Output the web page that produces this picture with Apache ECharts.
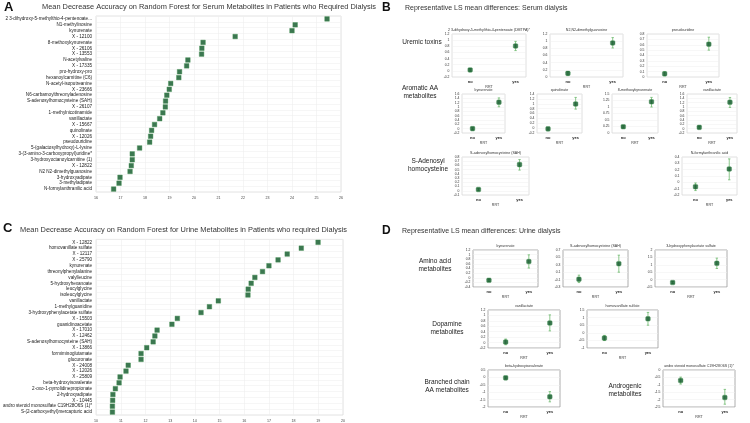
<!DOCTYPE html>
<html><head><meta charset="utf-8">
<script src="https://cdn.jsdelivr.net/npm/echarts@6/dist/echarts.min.js"></script>
<style>html,body{margin:0;padding:0;background:#fff}#c{width:750px;height:423px}</style>
</head><body><div id="c"></div><script>
// ---------- Panel A: serum random forest ----------
const serumNames = ["2 3-dihydroxy-5-methylthio-4-pentenoate...","N1-methylinosine","kynurenate","X - 12100","8-methoxykynurenate","X - 26106","X - 13553","N-acetylvaline","X - 17335","pro-hydroxy-pro","hexanoylcarnitine (C6)","N-acetyl-isoputreanine","X - 23666","N6-carbamoylthreonyladenosine","S-adenosylhomocysteine (SAH)","X - 26107","1-methylnicotinamide","vanillactate","X - 15667","quinolinate","X - 12026","pseudouridine","5-(galactosylhydroxy)-L-lysine","3-(3-amino-3-carboxypropyl)uridine*","3-hydroxyoctanoylcarnitine (1)","X - 12822","N2 N2-dimethylguanosine","3-hydroxyadipate","3-methyladipate","N-formylanthranilic acid"];
const serumMDA = [25.43,24.13,24.0,21.68,20.37,20.32,20.31,19.75,19.7,19.41,19.38,19.05,18.99,18.89,18.84,18.83,18.73,18.6,18.39,18.27,18.23,18.19,17.78,17.48,17.48,17.44,17.39,16.98,16.94,16.72];
const serumTicks = [16,17,18,19,20,21,22,23,24,25,26];

// ---------- Panel C: urine random forest ----------
const urineNames = ["X - 12822","homovanillate sulfate","X - 12117","X - 25790","kynurenate","threonylphenylalanine","valylleucine","5-hydroxyhexanoate","leucylglycine","isoleucylglycine","vanillactate","1-methylguanidine","3-hydroxyphenylacetate sulfate","X - 15503","guanidinoacetate","X - 17010","X - 12462","S-adenosylhomocysteine (SAH)","X - 13866","formiminoglutamate","glucuronate","X - 24008","X - 12026","X - 25809","beta-hydroxyisovalerate","2-oxo-1-pyrrolidinepropionate","2-hydroxyadipate","X - 10445","andro steroid monosulfate C19H28O6S (1)*","S-(2-carboxyethyl)mercapturic acid"];
const urineMDA = [18.99,18.31,17.74,17.37,17.0,16.74,16.43,16.28,16.16,16.15,14.95,14.59,14.25,13.29,13.07,12.47,12.38,12.31,12.05,11.82,11.82,11.30,11.21,10.97,10.93,10.78,10.68,10.67,10.66,10.66];
const urineTicks = [10,11,12,13,14,15,16,17,18,19,20];

// ---------- Panel B: serum LS means ----------
const rrtGroups = ["no","yes"];
const bTitles = ["2 3-dihydroxy-5-methylthio-4-pentenoate (DMTPA)*","N2,N2-dimethylguanosine","pseudouridine","kynurenate","quinolinate","8-methoxykynurenate","vanillactate","S-adenosylhomocysteine (SAH)","N-formylanthranilic acid"];
const bNoMean  = [0.03,0.10,0.06,0.00,-0.03,0.24,0.06,0.03,-0.07];
const bNoLow   = [-0.01,0.05,0.02,-0.04,-0.07,0.20,0.02,0.00,-0.13];
const bNoHigh  = [0.07,0.15,0.10,0.04,0.01,0.28,0.10,0.06,-0.01];
const bYesMean = [0.81,0.95,0.61,1.22,0.99,1.20,1.22,0.62,0.21];
const bYesLow  = [0.66,0.81,0.50,1.01,0.78,1.00,0.98,0.49,0.04];
const bYesHigh = [0.96,1.10,0.74,1.42,1.26,1.37,1.44,0.74,0.37];
const bYMin    = [-0.2,0,0,-0.2,-0.2,0,-0.2,-0.1,-0.2];
const bYMax    = [1.2,1.2,0.8,1.6,1.4,1.5,1.6,0.8,0.4];
const bYStep   = [0.2,0.2,0.1,0.2,0.2,0.25,0.2,0.1,0.1];

// ---------- Panel D: urine LS means ----------
const dTitles = ["kynurenate","S-adenosylhomocysteine (SAH)","3-hydroxyphenylacetate sulfate","vanillactate","homovanillate sulfate","beta-hydroxyisovalerate","andro steroid monosulfate C19H28O6S (1)*"];
const dNoMean  = [-0.11,-0.09,-0.20,0.02,-0.35,-0.03,-0.71];
const dNoLow   = [-0.16,-0.18,-0.27,-0.08,-0.51,-0.10,-0.95];
const dNoHigh  = [-0.06,0.02,-0.13,0.13,-0.17,0.04,-0.48];
const dYesMean = [0.70,0.33,1.10,0.72,0.92,-1.31,-1.86];
const dYesLow  = [0.42,0.10,0.75,0.43,0.50,-1.65,-2.31];
const dYesHigh = [0.99,0.56,1.45,1.02,1.34,-0.96,-1.31];
const dYMin    = [-0.4,-0.3,-0.5,-0.2,-1,-2,-2.5];
const dYMax    = [1.2,0.7,2,1.2,1.5,0.5,0];
const dYStep   = [0.2,0.2,0.5,0.2,0.5,0.5,0.5];

// ---------- layout (positions only) ----------
const bBoxes = [[452,34,74,43],[550,34,73,43],[647,34,72,43],[462,94,43,39],[537,94,45,39],[612,94,46,39],[687,94,50,39],[462,157,67,38],[682,157,55,38]];
const dBoxes = [[473,250,65,37],[563,250,65,37],[655,250,72,37],[488,310,72,38],[587,310,71,38],[488,370,72,37],[663,370,72,37]];

const FONT = 'Liberation Sans, Arial, sans-serif';
const grid = [], xAxis = [], yAxis = [], series = [], graphic = [];

function rfPanel(names, vals, ticks, box) {
  const gi = grid.length;
  grid.push({left: box[0], top: box[1], width: box[2], height: box[3], show: true, borderColor: '#dcdcdc', borderWidth: 0.8, containLabel: false});
  xAxis.push({type: 'value', gridIndex: gi, min: ticks[0], max: ticks[ticks.length-1], interval: 1,
    axisLine: {show: false}, axisTick: {show: false},
    axisLabel: {fontSize: 3.6, color: '#444', margin: 4, fontFamily: FONT},
    splitLine: {show: true, lineStyle: {color: '#eeeeee', width: 0.6}}});
  yAxis.push({type: 'category', gridIndex: gi, data: names, inverse: true,
    axisLine: {show: false}, axisTick: {show: false},
    axisLabel: {fontSize: 4.6, color: '#1a1a1a', margin: 4, interval: 0, fontFamily: FONT},
    splitLine: {show: true, interval: 0, lineStyle: {color: '#f0f0f0', width: 0.6}}});
  series.push({type: 'scatter', xAxisIndex: gi, yAxisIndex: gi, symbol: 'rect', symbolSize: 4.6,
    itemStyle: {color: '#0b5526', borderColor: '#3f8f4f', borderWidth: 0.5},
    data: vals.map((v, i) => [v, names[i]])});
}

function lsPanel(title, noM, noL, noH, yesM, yesL, yesH, ymin, ymax, ystep, box, border) {
  const gi = grid.length;
  grid.push({left: box[0], top: box[1], width: box[2], height: box[3], show: true, borderColor: border, borderWidth: 0.8});
  xAxis.push({type: 'value', gridIndex: gi, min: 0.6, max: 2.23,
    name: 'RRT', nameLocation: 'middle', nameGap: 7,
    nameTextStyle: {fontSize: 3.6, color: '#333', fontFamily: FONT},
    axisLine: {show: false}, axisTick: {show: false},
    axisLabel: {customValues: [1, 2], formatter: v => rrtGroups[Math.round(v) - 1] || '', fontSize: 4, fontWeight: 'bold', color: '#222', margin: 3, fontFamily: FONT},
    splitLine: {show: false}});
  yAxis.push({type: 'value', gridIndex: gi, min: ymin, max: ymax, interval: ystep,
    axisLine: {show: false}, axisTick: {show: false},
    axisLabel: {fontSize: 3.4, color: '#333', margin: 2.5, fontFamily: FONT},
    splitLine: {show: true, lineStyle: {color: '#efefef', width: 0.5}}});
  series.push({type: 'custom', xAxisIndex: gi, yAxisIndex: gi, z: 1,
    encode: {x: 0, y: [1, 2]},
    data: [[1, noL, noH], [2, yesL, yesH]],
    renderItem: (params, api) => {
      const x = api.value(0);
      const a = api.coord([x, api.value(1)]);
      const b = api.coord([x, api.value(2)]);
      const st = {stroke: '#6fba6f', lineWidth: 0.8};
      const c = 1.2;
      return {type: 'group', children: [
        {type: 'line', shape: {x1: a[0], y1: a[1], x2: b[0], y2: b[1]}, style: st},
        {type: 'line', shape: {x1: a[0]-c, y1: a[1], x2: a[0]+c, y2: a[1]}, style: st},
        {type: 'line', shape: {x1: b[0]-c, y1: b[1], x2: b[0]+c, y2: b[1]}, style: st}
      ]};
    }});
  series.push({type: 'scatter', xAxisIndex: gi, yAxisIndex: gi, z: 3, symbol: 'roundRect', symbolSize: 4.6,
    itemStyle: {color: '#0b5526', borderColor: '#3f8f4f', borderWidth: 0.5},
    data: [[1, noM], [2, yesM]]});
  graphic.push({type: 'text', style: {text: title, x: box[0] + box[2] / 2, y: box[1] - 2.5, textAlign: 'center', textVerticalAlign: 'bottom', fontSize: 3.6, fill: '#333', fontFamily: FONT}});
}

rfPanel(serumNames, serumMDA, serumTicks, [96, 16, 245, 176]);
rfPanel(urineNames, urineMDA, urineTicks, [95, 239.4, 248, 176.3]);
bTitles.forEach((t, i) => lsPanel(t, bNoMean[i], bNoLow[i], bNoHigh[i], bYesMean[i], bYesLow[i], bYesHigh[i], bYMin[i], bYMax[i], bYStep[i], bBoxes[i], '#d8d8d8'));
dTitles.forEach((t, i) => lsPanel(t, dNoMean[i], dNoLow[i], dNoHigh[i], dYesMean[i], dYesLow[i], dYesHigh[i], dYMin[i], dYMax[i], dYStep[i], dBoxes[i], '#9a9a9a'));

function txt(text, x, y, size, opts) {
  graphic.push({type: 'text', style: Object.assign({text, x, y, fontSize: size, fill: '#222', fontFamily: FONT, textVerticalAlign: 'middle'}, opts || {})});
}
// panel letters and titles
txt('A', 4, 7, 13, {fontWeight: 'bold', fill: '#111'});
txt('Mean Decrease Accuracy on Random Forest for Serum Metabolites in Patients who Required Dialysis', 42, 7, 7.4, {fill: '#333'});
txt('C', 3, 228, 13, {fontWeight: 'bold', fill: '#111'});
txt('Mean Decrease Accuracy on Random Forest for Urine Metabolites in Patients who required Dialysis', 20, 230, 7.4, {fill: '#333'});
txt('B', 382, 8, 12, {fontWeight: 'bold', fill: '#111'});
txt('Representative LS mean differences: Serum dialysis', 405, 8, 7, {fill: '#333'});
txt('D', 382, 231, 12, {fontWeight: 'bold', fill: '#111'});
txt('Representative LS mean differences: Urine dialysis', 402, 231, 7, {fill: '#333'});
// row group labels
const rl = {textAlign: 'center', lineHeight: 8};
txt('Uremic toxins', 422, 42, 6.5, rl);
txt('Aromatic AA\nmetabolites', 420, 92, 6.5, rl);
txt('S-Adenosyl\nhomocysteine', 428, 165, 6.5, rl);
txt('Amino acid\nmetabolites', 435, 265, 6.5, rl);
txt('Dopamine\nmetabolites', 447, 328, 6.5, rl);
txt('Branched chain\nAA metabolites', 447, 386, 6.5, rl);
txt('Androgenic\nmetabolites', 625, 390, 6.5, rl);

const chart = echarts.init(document.getElementById('c'), null, {renderer: 'canvas'});
chart.setOption({animation: false, backgroundColor: '#fff', grid, xAxis, yAxis, series, graphic});
</script></body></html>
